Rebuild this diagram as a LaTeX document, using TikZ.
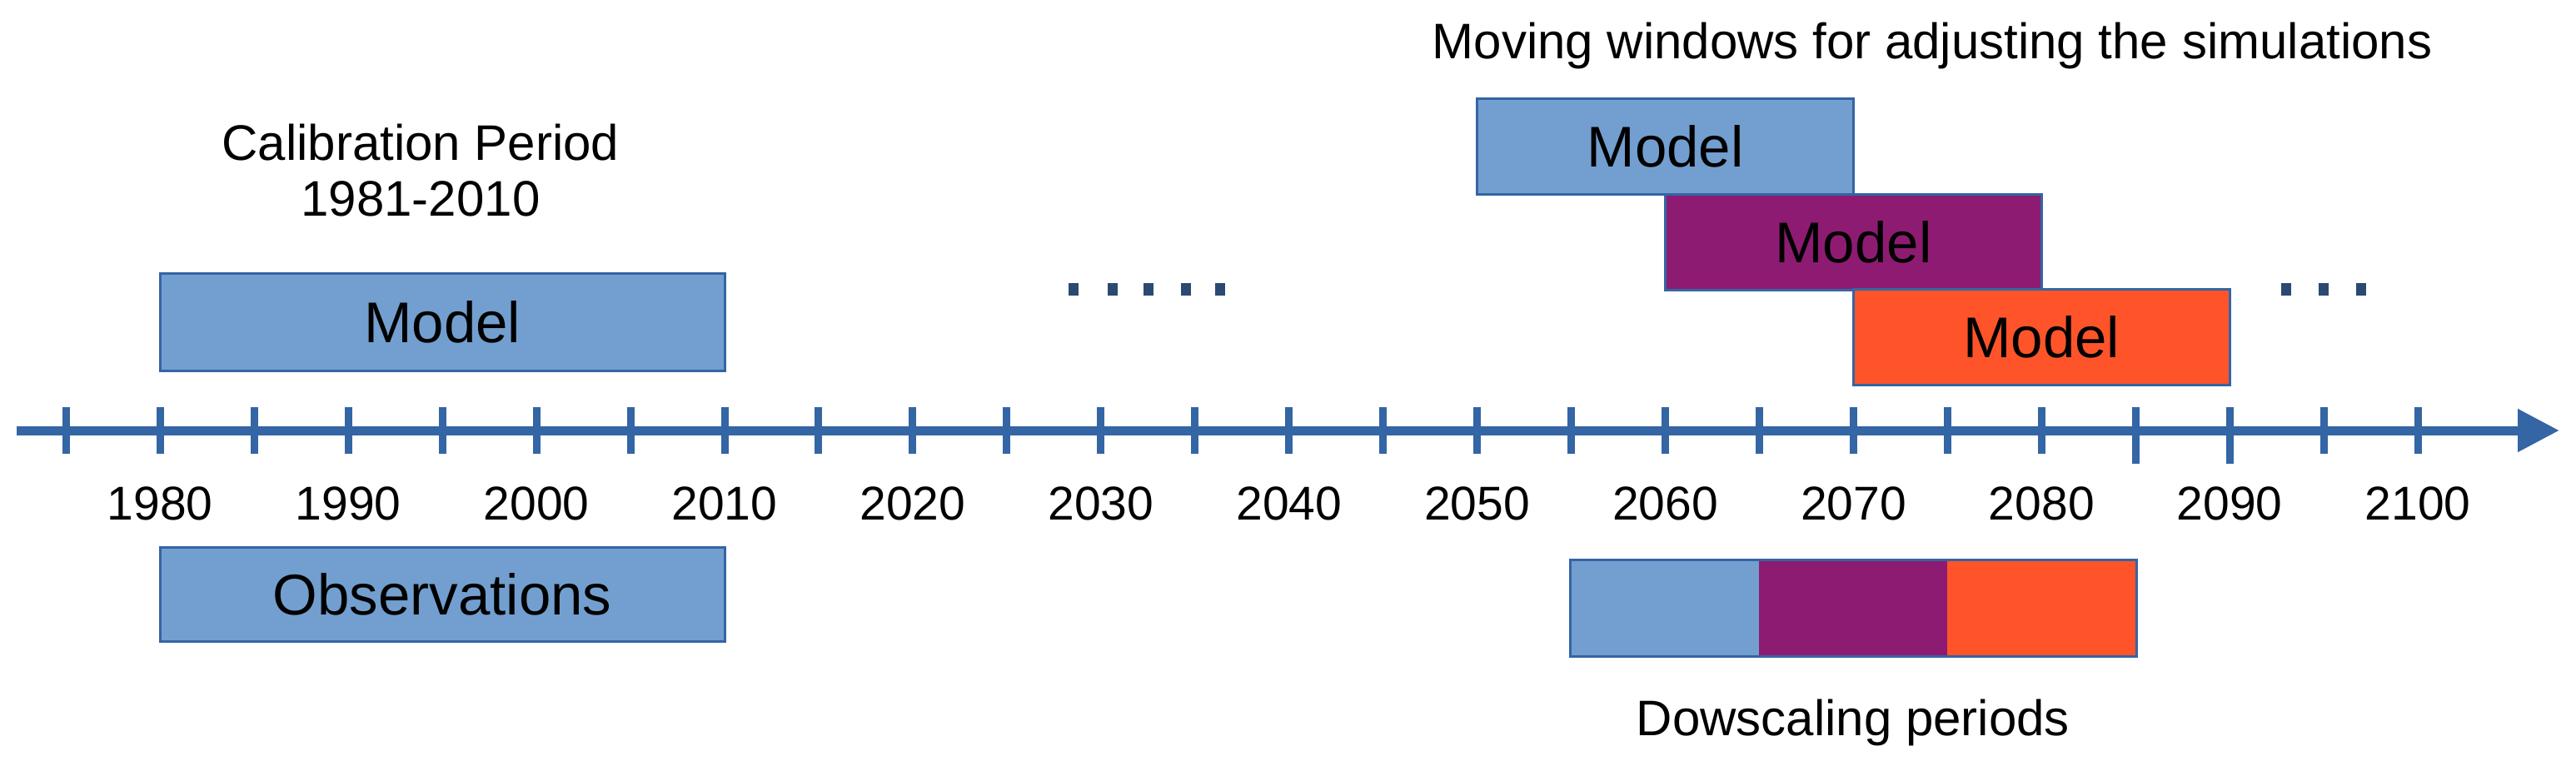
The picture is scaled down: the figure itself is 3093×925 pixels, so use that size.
\documentclass[tikz,border=0pt]{standalone}
\usepackage{fontspec}
\setmainfont{Liberation Sans}
\usetikzlibrary{arrows.meta}
\definecolor{axisblue}{HTML}{3465A4}
\definecolor{boxblue}{HTML}{729FCF}
\definecolor{boxpurple}{HTML}{8E1B72}
\definecolor{boxorange}{HTML}{FF5429}
\definecolor{dotcol}{HTML}{2B4A72}
\begin{document}
\begin{tikzpicture}[x=0.25pt,y=-0.25pt,
  box/.style={draw=axisblue,line width=0.75pt,inner sep=0pt,font=\fontsize{17.25}{20}\selectfont,text=black},
  seg/.style={draw=none,inner sep=0pt,minimum width=56.475pt,minimum height=28.75pt},
  yearlbl/.style={font=\fontsize{14.25}{16}\selectfont,anchor=base,inner sep=0pt},
  titletext/.style={font=\fontsize{15}{16.75}\selectfont,inner sep=0pt,align=center},
  tickline/.style={draw=axisblue,line width=2.25pt},
  dotbox/.style={fill=dotcol,draw=none,minimum width=3pt,minimum height=3.75pt,inner sep=0pt}]

\useasboundingbox[fill=white] (0,0) rectangle (3093,925);

% axis
\coordinate (axs) at (20,517);
\coordinate (axe) at (3073,517);
\foreach \yr in {1975,1980,...,2100} {
  \draw[tickline] ({192.3+(\yr-1980)*22.59},489) -- ({192.3+(\yr-1980)*22.59},545);
}
\draw[tickline] (2564.3,540) -- (2564.3,557);
\draw[tickline] (2677.2,540) -- (2677.2,557);
\draw[axisblue,line width=2.75pt,-{Triangle[length=12.5pt,width=12.25pt]}] (axs) -- (axe);

% year labels
\foreach \yr in {1980,1990,...,2100} {
  \node[yearlbl] (y\yr) at ({192.3+(\yr-1980)*22.59},624) {\yr};
}

% calibration period
\node[titletext] (caltitle) at (505,205) {Calibration Period\\1981-2010};
\node[box,fill=boxblue,minimum width=169.4pt,minimum height=29.25pt] (calmodel) at (531.2,386.5) {Model};
\node[box,fill=boxblue,minimum width=169.4pt,minimum height=28.25pt] (obs) at (531.2,713.5) {Observations};

% moving windows
\node[titletext,anchor=base] (mwtitle) at (2320,70) {Moving windows for adjusting the simulations};
\node[box,fill=boxblue,minimum width=112.95pt,minimum height=28.75pt] (mw1) at (1999.5,175.5) {Model};
\node[box,fill=boxpurple,minimum width=112.95pt,minimum height=28.75pt] (mw2) at (2225.4,290.5) {Model};
\node[box,fill=boxorange,minimum width=112.95pt,minimum height=28.75pt] (mw3) at (2451.3,404.5) {Model};

% dots
\foreach \i/\xx in {1/1289,2/1336,3/1379,4/1424,5/1465} {
  \node[dotbox] (da\i) at (\xx,347) {};
}
\foreach \i/\xx in {1/2745,2/2790,3/2835} {
  \node[dotbox] (db\i) at (\xx,347) {};
}

% downscaling periods
\node[seg,fill=boxblue] (ds1) at (1999.5,730.5) {};
\node[seg,fill=boxpurple] (ds2) at (2225.4,730.5) {};
\node[seg,fill=boxorange] (ds3) at (2451.3,730.5) {};
\draw[axisblue,line width=0.75pt] (ds1.north west) rectangle (ds3.south east);
\node[titletext,anchor=base] (dstitle) at (2225,883) {Dowscaling periods};

\end{tikzpicture}
\end{document}
